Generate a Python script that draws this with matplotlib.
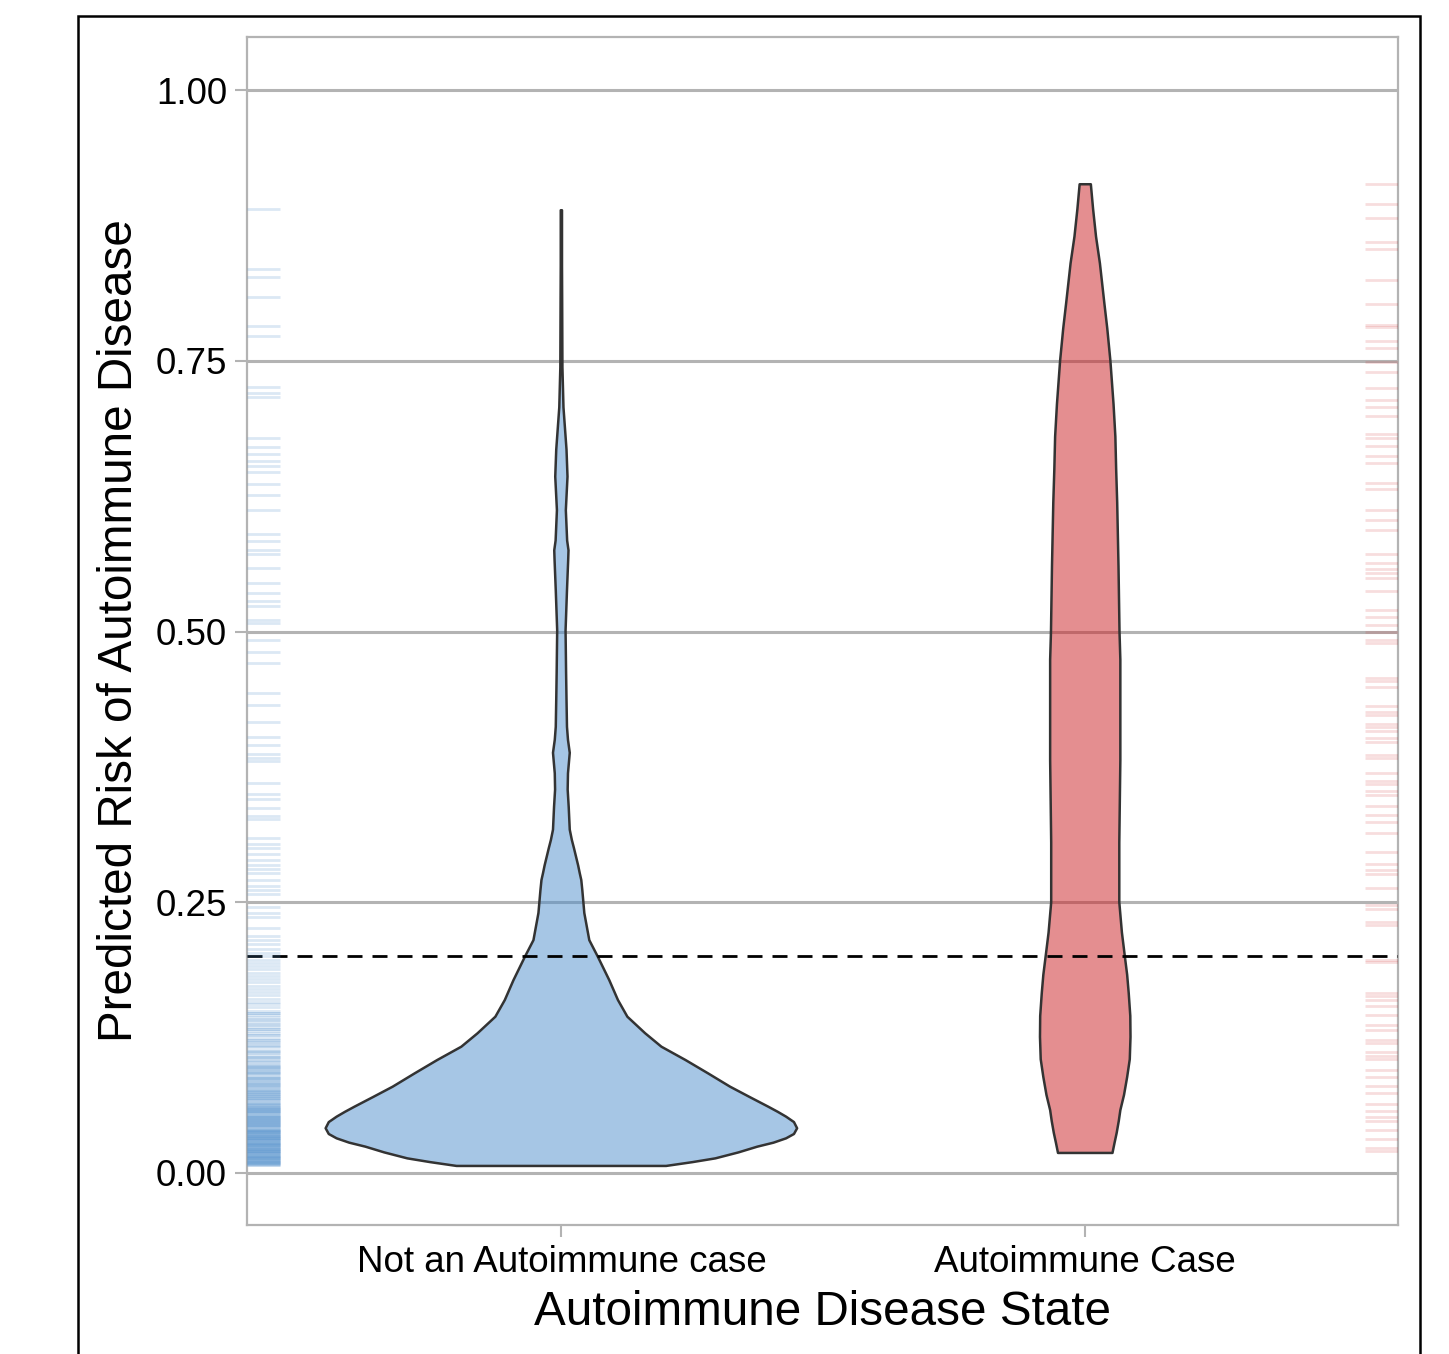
import matplotlib.pyplot as plt
from matplotlib.colors import to_rgba
from matplotlib.patches import Rectangle

plt.rcParams['font.family'] = ['Liberation Sans', 'DejaVu Sans']

# Categories
categories = ["Not an Autoimmune case", "Autoimmune Case"]
blue = '#4F8FCC'
red = '#CB1F23'

# Violin profiles: (risk value, half width in x units)
blue_y = [0.0065, 0.010, 0.0135, 0.019, 0.0243, 0.028, 0.032, 0.036, 0.0413,
          0.047, 0.052, 0.0565, 0.0612, 0.070, 0.0797, 0.092, 0.1043,
          0.1166, 0.129, 0.1443, 0.1597, 0.178, 0.1997, 0.215, 0.240, 0.261,
          0.2705, 0.277, 0.284, 0.292, 0.300, 0.3075, 0.317, 0.338, 0.354,
          0.369, 0.388, 0.400, 0.412, 0.437, 0.462, 0.501, 0.538, 0.566,
          0.575, 0.584, 0.612, 0.643, 0.668, 0.707, 0.744, 0.806, 0.837, 0.889]
blue_w = [0.200, 0.250, 0.294, 0.338, 0.374, 0.405, 0.429, 0.444, 0.450,
          0.444, 0.429, 0.413, 0.395, 0.360, 0.322, 0.280, 0.237,
          0.191, 0.160, 0.126, 0.108, 0.0915, 0.0696, 0.0533, 0.0438, 0.040,
          0.038, 0.035, 0.032, 0.028, 0.024, 0.020, 0.016, 0.014, 0.012,
          0.0126, 0.016, 0.0126, 0.0107, 0.0098, 0.009, 0.008, 0.0107, 0.013,
          0.0136, 0.011, 0.0085, 0.0117, 0.0098, 0.004, 0.002, 0.0015, 0.0012, 0.0012]

red_y = [0.0185, 0.028, 0.037, 0.048, 0.058, 0.072, 0.0886, 0.105, 0.1256,
         0.145, 0.166, 0.183, 0.200, 0.222, 0.250, 0.305, 0.381, 0.474,
         0.500, 0.560, 0.619, 0.650, 0.680, 0.710, 0.750, 0.780, 0.803,
         0.840, 0.8646, 0.890, 0.913]
red_w = [0.052, 0.056, 0.060, 0.064, 0.067, 0.074, 0.080, 0.085, 0.0864,
         0.086, 0.083, 0.080, 0.0756, 0.070, 0.065, 0.065, 0.067, 0.067,
         0.0654, 0.0635, 0.061, 0.059, 0.0575, 0.054, 0.048, 0.042, 0.0365,
         0.028, 0.0206, 0.015, 0.0107]

# Rug values
blue_rug = [
    0.890, 0.835, 0.827, 0.809, 0.782, 0.773, 0.726, 0.720, 0.717, 0.679,
    0.670, 0.664, 0.657, 0.653, 0.647, 0.636, 0.626, 0.612, 0.590, 0.584,
    0.575, 0.572, 0.559, 0.545, 0.536, 0.528, 0.524, 0.511, 0.508, 0.492,
    0.481, 0.471, 0.443, 0.432, 0.416, 0.403, 0.395, 0.387, 0.383, 0.380,
    0.360, 0.350, 0.345, 0.337, 0.330, 0.327, 0.309, 0.304, 0.300, 0.295,
    0.289, 0.284, 0.281, 0.277, 0.271, 0.265, 0.261, 0.258, 0.246, 0.240,
    0.236, 0.226, 0.219, 0.215, 0.211, 0.207, 0.203, 0.200, 0.197, 0.194,
    0.191, 0.188, 0.185, 0.182, 0.179, 0.176, 0.173, 0.170, 0.167, 0.164,
    0.161, 0.158, 0.156, 0.153, 0.150, 0.148, 0.146, 0.144, 0.141, 0.139,
    0.137, 0.135, 0.133, 0.131, 0.129, 0.127, 0.125, 0.123, 0.121, 0.120,
    0.118, 0.116, 0.114, 0.112, 0.111, 0.109, 0.107, 0.106, 0.104, 0.103,
    0.101, 0.100, 0.099, 0.098, 0.097, 0.096, 0.095, 0.094, 0.093, 0.092,
    0.091, 0.090, 0.089, 0.088, 0.087, 0.086, 0.085, 0.084, 0.083, 0.082,
    0.081, 0.080, 0.079, 0.078, 0.077, 0.076, 0.075, 0.074, 0.073, 0.072,
    0.071, 0.070, 0.069, 0.068, 0.067, 0.066, 0.065, 0.064, 0.063, 0.062,
    0.061, 0.060, 0.060, 0.059, 0.058, 0.058, 0.057, 0.056, 0.056, 0.055,
    0.054, 0.054, 0.053, 0.052, 0.052, 0.051, 0.050, 0.050, 0.049, 0.048,
    0.048, 0.047, 0.046, 0.046, 0.045, 0.044, 0.044, 0.043, 0.042, 0.042,
    0.041, 0.040, 0.040, 0.039, 0.038, 0.038, 0.037, 0.036, 0.036, 0.035,
    0.034, 0.034, 0.033, 0.032, 0.032, 0.031, 0.030, 0.030, 0.029, 0.028,
    0.028, 0.027, 0.026, 0.026, 0.025, 0.024, 0.024, 0.023, 0.022, 0.022,
    0.021, 0.020, 0.020, 0.019, 0.018, 0.018, 0.017, 0.016, 0.016, 0.015,
    0.014, 0.014, 0.013, 0.012, 0.012, 0.011, 0.010, 0.010, 0.009, 0.008,
    0.007,
    # densest part near zero
    0.0075, 0.0085, 0.0095, 0.0105, 0.0115, 0.0125, 0.0135, 0.0145, 0.0155,
    0.0165, 0.0175, 0.0185, 0.0195, 0.0205, 0.0215, 0.0225, 0.0235, 0.0245,
    0.0255, 0.0265, 0.0275, 0.0285, 0.0295, 0.0305, 0.0315, 0.0325, 0.0335,
    0.0345, 0.0355, 0.0365, 0.0375, 0.0385, 0.0395,
    0.041, 0.043, 0.045, 0.047, 0.049, 0.051, 0.053, 0.055, 0.057, 0.059,
    0.061, 0.063, 0.065, 0.067, 0.069, 0.071, 0.073, 0.075, 0.077, 0.079,
    0.0825, 0.0875, 0.0925, 0.0975, 0.1025, 0.1075, 0.1125, 0.1175, 0.1225,
    0.1275, 0.1325, 0.1375, 0.1425, 0.1475,
]
red_rug = [
    0.913, 0.895, 0.882, 0.860, 0.853, 0.825, 0.802, 0.783, 0.781, 0.768,
    0.762, 0.749, 0.740, 0.725, 0.714, 0.707, 0.699, 0.682, 0.679, 0.671,
    0.662, 0.656, 0.637, 0.632, 0.612, 0.603, 0.594, 0.572, 0.563, 0.558,
    0.554, 0.549, 0.537, 0.520, 0.513, 0.506, 0.500, 0.492, 0.489, 0.457,
    0.454, 0.449, 0.431, 0.426, 0.423, 0.415, 0.412, 0.408, 0.402, 0.398,
    0.386, 0.383, 0.369, 0.362, 0.359, 0.353, 0.349, 0.339, 0.331, 0.324,
    0.314, 0.296, 0.285, 0.280, 0.276, 0.263, 0.247, 0.244, 0.232, 0.229,
    0.197, 0.195, 0.166, 0.163, 0.160, 0.154, 0.146, 0.137, 0.132, 0.123,
    0.120, 0.112, 0.108, 0.105, 0.095, 0.089, 0.080, 0.074, 0.064, 0.057,
    0.052, 0.048, 0.040, 0.031, 0.023, 0.020,
]

threshold = 0.2
yticks = [0.00, 0.25, 0.50, 0.75, 1.00]

fig = plt.figure(figsize=(14.49, 13.54), dpi=100)
ax = fig.add_axes([0.1705, 0.0953, 0.7943, 0.8774])

grid_col = '#b3b3b3'


def draw_violin(pos, ys, ws, color):
    xs = [pos - w for w in ws] + [pos + w for w in reversed(ws)]
    yy = list(ys) + list(reversed(ys))
    ax.fill(xs, yy, facecolor=to_rgba(color, 0.5), edgecolor='#333333',
            linewidth=1.8, joinstyle='round', zorder=2)


draw_violin(1, blue_y, blue_w, blue)
draw_violin(2, red_y, red_w, red)

ax.axhline(threshold, color='black', linewidth=2.0, dashes=(5.4, 3.6), zorder=3)

ax.hlines(blue_rug, 0, 0.029, transform=ax.get_yaxis_transform(),
          color=blue, alpha=0.2, linewidth=2.0, zorder=4)
ax.hlines(red_rug, 0.971, 1.0, transform=ax.get_yaxis_transform(),
          color=red, alpha=0.15, linewidth=2.0, zorder=4)

ax.set_xlim(0.4, 2.597)
ax.set_ylim(-0.048, 1.049)
ax.set_xticks([1, 2])
ax.set_xticklabels(categories)
ax.set_yticks(yticks)
ax.set_yticklabels([f"{t:.2f}" for t in yticks])

ax.set_axisbelow(True)
ax.grid(axis='y', color=grid_col, linewidth=2.2)
ax.grid(axis='x', visible=False)
for s in ax.spines.values():
    s.set_color(grid_col)
    s.set_linewidth(1.6)
ax.tick_params(axis='both', color=grid_col, width=1.5, length=8.5,
               labelsize=26.5, labelcolor='black', pad=6)

ax.set_xlabel("Autoimmune Disease State", fontsize=34.3, labelpad=7)
ax.set_ylabel("Predicted Risk of Autoimmune Disease", fontsize=34.3, labelpad=10)

# outer black frame (runs off the bottom of the image)
fig.add_artist(Rectangle((78 / 1449, -0.05), (1420 - 78) / 1449, 1.05 - 16 / 1354,
                         transform=fig.transFigure, fill=False, edgecolor='black',
                         linewidth=1.8, clip_on=False))

plt.savefig('out.png', dpi=100)
plt.close()
